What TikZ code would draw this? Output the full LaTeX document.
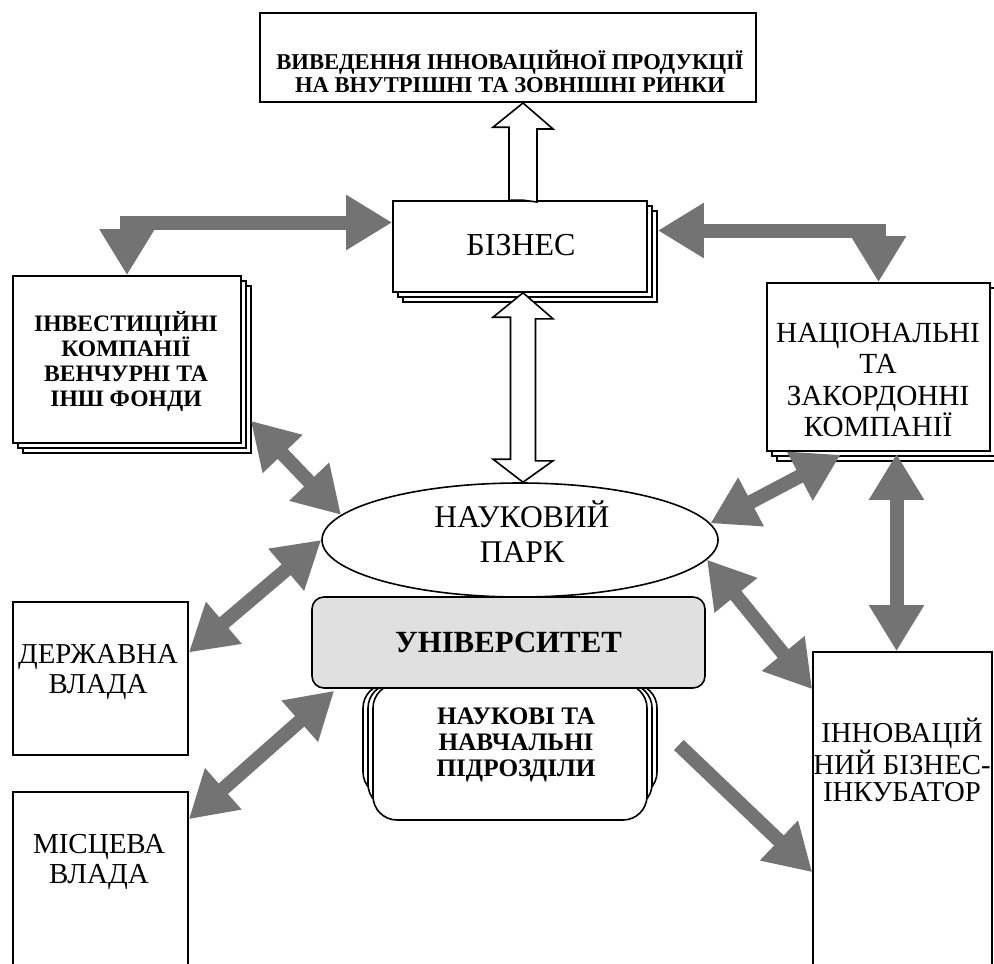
\documentclass[tikz,border=0pt]{standalone}
\usepackage{fontspec}
\setmainfont{Liberation Serif}
\usetikzlibrary{shapes.geometric, shadows, arrows.meta}
\definecolor{arrowgray}{RGB}{115,115,115}
\definecolor{unigray}{RGB}{224,224,224}
\tikzset{
  box/.style={draw, line width=0.8pt, fill=white, inner sep=0pt},
  stackbox/.style={box, double copy shadow={shadow xshift=2.5pt, shadow yshift=-2.5pt, draw=black, line width=0.8pt, fill=white}},
  txt/.style={align=center, inner sep=0pt},
  fat/.style={draw=arrowgray, line width=7pt, line join=miter, {Triangle[length=23pt, width=26pt]}-{Triangle[length=23pt, width=26pt]}},
  hollow/.style={draw, line width=0.8pt, fill=white, line join=miter},
}
\begin{document}
\begin{tikzpicture}[x=0.5pt, y=-0.5pt]
  \useasboundingbox (0,0) rectangle (994,963);
  \clip (0,0) rectangle (994,963);

  % market box at the top
  \node[box, line width=1pt, minimum width=248pt, minimum height=44.5pt] (market) at (508,57.5) {};
  \node[txt, font=\fontsize{11.3}{11.5}\selectfont\bfseries] (marketlbl) at (510,71)
    {ВИВЕДЕННЯ ІННОВАЦІЙНОЇ ПРОДУКЦІЇ\\НА ВНУТРІШНІ ТА ЗОВНІШНІ РИНКИ};

  % business
  \node[stackbox, minimum width=127pt, minimum height=45.5pt] (biz) at (520,246.5) {};
  \node[txt, font=\fontsize{16}{17}\selectfont] (bizlbl) at (521,245) {БІЗНЕС};

  % investment companies
  \node[stackbox, minimum width=114pt, minimum height=83.5pt] (inv) at (127,359.5) {};
  \node[txt, font=\fontsize{11.8}{12.5}\selectfont\bfseries] (invlbl) at (126,361)
    {ІНВЕСТИЦІЙНІ\\КОМПАНІЇ\\ВЕНЧУРНІ ТА\\ІНШ ФОНДИ};

  % national and foreign companies
  \node[stackbox, minimum width=111.5pt, minimum height=84pt] (nat) at (878.5,367) {};
  \node[txt, font=\fontsize{14.6}{15.8}\selectfont] (natlbl) at (878,380)
    {НАЦІОНАЛЬНІ\\ТА\\ЗАКОРДОННІ\\КОМПАНІЇ};

  % state and local authorities
  \node[box, minimum width=87.5pt, minimum height=76.5pt] (derzh) at (100.5,678.5) {};
  \node[txt, font=\fontsize{14.4}{15}\selectfont] (derzhlbl) at (98,672) {ДЕРЖАВНА\\ВЛАДА};
  \node[box, minimum width=87.5pt, minimum height=110pt] (mis) at (100.5,902) {};
  \node[txt, font=\fontsize{14.5}{15}\selectfont] (mislbl) at (99,862) {МІСЦЕВА\\ВЛАДА};

  % incubator
  \node[box, minimum width=89.5pt, minimum height=180pt] (incub) at (902.5,832) {};
  \node[txt, font=\fontsize{14.4}{13.5}\selectfont] (incublbl) at (902,760)
    {ІННОВАЦІЙ\\НИЙ БІЗНЕС-\\ІНКУБАТОР};

  % science park
  \node[ellipse, draw, line width=0.8pt, fill=white, inner sep=0pt,
        minimum width=198pt, minimum height=57pt] (park) at (520,540) {};
  \node[txt, font=\fontsize{15.8}{17.5}\selectfont] (parklbl) at (522,532) {НАУКОВИЙ\\ПАРК};

  % departments (stacked)
  \foreach \k in {2,1} {
    \draw[line width=0.8pt, fill=white, rounded corners=12pt]
      ({373-5*\k},684) rectangle ({647+5*\k},{820-12*\k});
  }
  \node[box, rounded corners=12pt, minimum width=137pt, minimum height=68pt] (nav) at (510,752) {};
  \node[txt, font=\fontsize{12.6}{13}\selectfont\bfseries] (navlbl) at (516,745)
    {НАУКОВІ ТА\\НАВЧАЛЬНІ\\ПІДРОЗДІЛИ};

  % university
  \node[box, fill=unigray, rounded corners=6pt, minimum width=196.5pt, minimum height=45.5pt] (univ) at (508.5,642.5)
    {\fontsize{15.4}{16}\selectfont\bfseries УНІВЕРСИТЕТ};

  % hollow arrows
  \draw[hollow] ([xshift=1.5pt]biz.north) -- ++(-14,0) -- ++(0,-73) -- ++(-16,0)
    -- ([xshift=7.5pt]market.south) -- ++(30,26) -- ++(-16,0) -- ++(0,73) -- cycle;
  \draw[hollow] ([xshift=1.5pt]biz.south) -- ++(30,26) -- ++(-17.5,0) -- ++(0,142) -- ++(17.5,0)
    -- ([xshift=1.5pt]park.north) -- ++(-30,-23) -- ++(17.5,0) -- ++(0,-142) -- ++(-17.5,0) -- cycle;

  % grey arrows
  \draw[fat] (inv.north) |- ([yshift=12pt]biz.west);
  \draw[fat] ([xshift=5pt,yshift=8pt]biz.east) -| (nat.north);
  \draw[fat] ([xshift=4.5pt,yshift=11.5pt]inv.south east) -- (park.172);
  \draw[fat] (park.west) -- ([yshift=13pt]derzh.east);
  \draw[fat] ([xshift=11.5pt,yshift=-1pt]univ.south west) -- ([yshift=-14pt]mis.north east);
  \draw[fat] (park.5) -- ([xshift=-19pt,yshift=-1.5pt]nat.south);
  \coordinate (natdown) at ([xshift=9pt,yshift=-1pt]nat.south);
  \draw[fat] (natdown) -- (natdown |- incub.north);
  \draw[fat] (park.354) -- ([yshift=-19pt]incub.north west);
  \coordinate (navout) at ([xshift=15.5pt,yshift=3.5pt]nav.east);
  \draw[fat, arrows=-{Triangle[length=23pt, width=26pt]}] (navout) -- ([yshift=-110.5pt]incub.north west);
\end{tikzpicture}
\end{document}
